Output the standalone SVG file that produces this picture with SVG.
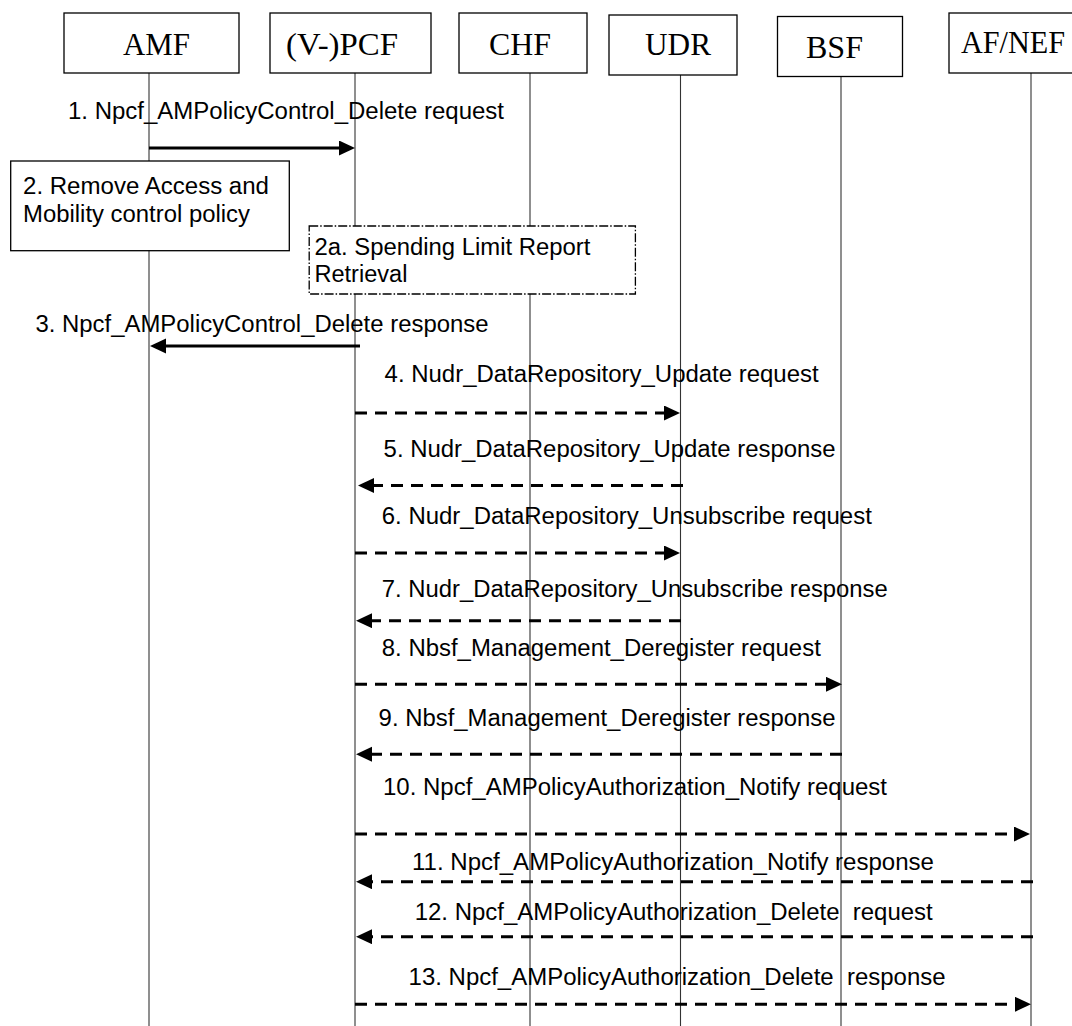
<svg xmlns="http://www.w3.org/2000/svg" width="1072" height="1026" viewBox="0 0 1072 1026">
<style>
.box{fill:#fff;stroke:#000;stroke-width:1.3}
.life{stroke:#333;stroke-width:1.1;fill:none}
.hdr{font-family:"Liberation Serif","Times New Roman",serif;font-size:32px;fill:#000}
.lbl{font-family:"Liberation Sans",Arial,sans-serif;font-size:23px;fill:#000}
.msg{stroke:#000;stroke-width:3;fill:none}
.dash{stroke-dasharray:12,8}
.note2a{fill:#fff;stroke:#000;stroke-width:1.3;stroke-dasharray:9,2,1.5,2}
</style>
<defs>
<marker id="ah" markerUnits="userSpaceOnUse" markerWidth="17" markerHeight="16" refX="7" refY="7.5" orient="auto">
<path d="M0,0 L16,7.5 L0,15 z" fill="#000"/>
</marker>
</defs>
<rect x="0" y="0" width="1072" height="1026" fill="#fff"/>

<g id="AMF">
<line class="life" x1="149" y1="73" x2="149" y2="1026"/>
<rect class="box" x="64" y="13" width="175" height="60"/>
<text class="hdr" x="123" y="55" textLength="67" lengthAdjust="spacingAndGlyphs">AMF</text>
</g>
<g id="PCF">
<line class="life" x1="355" y1="73" x2="355" y2="1026"/>
<rect class="box" x="270" y="13" width="161" height="60"/>
<text class="hdr" x="286" y="55" textLength="112" lengthAdjust="spacingAndGlyphs">(V-)PCF</text>
</g>
<g id="CHF">
<line class="life" x1="530" y1="73" x2="530" y2="1026"/>
<rect class="box" x="459" y="13" width="128" height="60"/>
<text class="hdr" x="489" y="55" textLength="62" lengthAdjust="spacingAndGlyphs">CHF</text>
</g>
<g id="UDR">
<line class="life" x1="680.5" y1="75" x2="680.5" y2="1026"/>
<rect class="box" x="609" y="15" width="128" height="60"/>
<text class="hdr" x="645" y="55" textLength="66" lengthAdjust="spacingAndGlyphs">UDR</text>
</g>
<g id="BSF">
<line class="life" x1="841" y1="77" x2="841" y2="1026"/>
<rect class="box" x="777.5" y="16.5" width="125" height="60"/>
<text class="hdr" x="806" y="58" textLength="57" lengthAdjust="spacingAndGlyphs">BSF</text>
</g>
<g id="AFNEF">
<line class="life" x1="1031" y1="73" x2="1031" y2="1026"/>
<rect class="box" x="949" y="13" width="140" height="60"/>
<text class="hdr" x="961" y="53" textLength="104" lengthAdjust="spacingAndGlyphs">AF/NEF</text>
</g>

<g id="step2">
<rect class="box" x="10.7" y="161" width="278.6" height="89.7"/>
<text class="lbl" x="23" y="194" textLength="246" lengthAdjust="spacingAndGlyphs">2. Remove Access and</text>
<text class="lbl" x="23" y="221.7" textLength="227" lengthAdjust="spacingAndGlyphs">Mobility control policy</text>
</g>
<g id="step2a">
<rect class="note2a" x="309.2" y="226" width="326.2" height="68"/>
<text class="lbl" x="314.4" y="255" textLength="276" lengthAdjust="spacingAndGlyphs">2a. Spending Limit Report</text>
<text class="lbl" x="314.4" y="281.7" textLength="93" lengthAdjust="spacingAndGlyphs">Retrieval</text>
</g>

<g id="connectors">
<line class="msg" x1="149" y1="148" x2="346" y2="148" marker-end="url(#ah)"/>
<line class="msg" x1="360" y1="346" x2="159" y2="346" marker-end="url(#ah)"/>
<line class="msg dash" x1="355" y1="413" x2="671" y2="413" marker-end="url(#ah)"/>
<line class="msg dash" x1="683" y1="485.5" x2="367" y2="485.5" marker-end="url(#ah)"/>
<line class="msg dash" x1="355" y1="553" x2="671" y2="553" marker-end="url(#ah)"/>
<line class="msg dash" x1="681" y1="620.7" x2="365" y2="620.7" marker-end="url(#ah)"/>
<line class="msg dash" x1="355" y1="684.3" x2="833" y2="684.3" marker-end="url(#ah)"/>
<line class="msg dash" x1="842" y1="754.3" x2="365" y2="754.3" marker-end="url(#ah)"/>
<line class="msg dash" x1="355" y1="834" x2="1021" y2="834" marker-end="url(#ah)"/>
<line class="msg dash" x1="1033" y1="881.7" x2="365" y2="881.7" marker-end="url(#ah)"/>
<line class="msg dash" x1="1033" y1="936.7" x2="365" y2="936.7" marker-end="url(#ah)"/>
<line class="msg dash" x1="355" y1="1004.3" x2="1022" y2="1004.3" marker-end="url(#ah)"/>
</g>

<g id="labels">
<text class="lbl" x="68" y="119" textLength="436" lengthAdjust="spacingAndGlyphs">1. Npcf_AMPolicyControl_Delete request</text>
<text class="lbl" x="35.5" y="331.7" textLength="453" lengthAdjust="spacingAndGlyphs">3. Npcf_AMPolicyControl_Delete response</text>
<text class="lbl" x="384.6" y="381.7" textLength="434" lengthAdjust="spacingAndGlyphs">4. Nudr_DataRepository_Update request</text>
<text class="lbl" x="383.6" y="456.7" textLength="452" lengthAdjust="spacingAndGlyphs">5. Nudr_DataRepository_Update response</text>
<text class="lbl" x="381.8" y="524" textLength="490" lengthAdjust="spacingAndGlyphs">6. Nudr_DataRepository_Unsubscribe request</text>
<text class="lbl" x="381.8" y="596.7" textLength="506" lengthAdjust="spacingAndGlyphs">7. Nudr_DataRepository_Unsubscribe response</text>
<text class="lbl" x="381.8" y="656" textLength="439" lengthAdjust="spacingAndGlyphs">8. Nbsf_Management_Deregister request</text>
<text class="lbl" x="378.6" y="725.7" textLength="457" lengthAdjust="spacingAndGlyphs">9. Nbsf_Management_Deregister response</text>
<text class="lbl" x="383" y="795" textLength="504" lengthAdjust="spacingAndGlyphs">10. Npcf_AMPolicyAuthorization_Notify request</text>
<text class="lbl" x="412" y="870" textLength="522" lengthAdjust="spacingAndGlyphs">11. Npcf_AMPolicyAuthorization_Notify response</text>
<text class="lbl" x="414.7" y="920" textLength="518" lengthAdjust="spacingAndGlyphs" xml:space="preserve">12. Npcf_AMPolicyAuthorization_Delete  request</text>
<text class="lbl" x="408.6" y="985" textLength="537" lengthAdjust="spacingAndGlyphs" xml:space="preserve">13. Npcf_AMPolicyAuthorization_Delete  response</text>
</g>
</svg>
